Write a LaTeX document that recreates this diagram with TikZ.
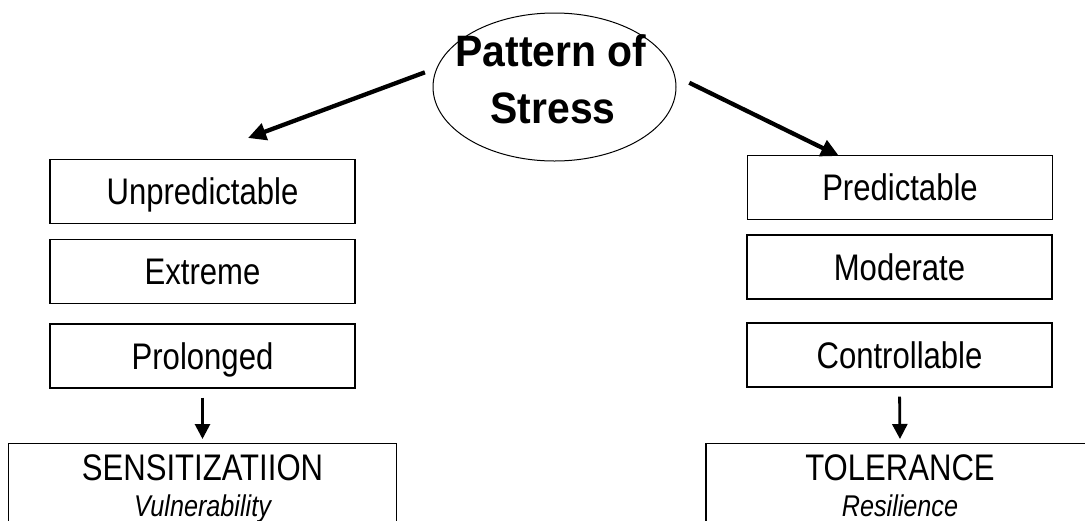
\documentclass[tikz,border=0pt]{standalone}
\usepackage{fontspec}
\setmainfont{Liberation Sans}[FakeStretch=0.84]
\newfontfamily\titlefont{Liberation Sans}[FakeStretch=0.93]
\usetikzlibrary{shapes.geometric,arrows.meta}
\begin{document}
\begin{tikzpicture}[x=1pt,y=-1pt,
  stepbox/.style={draw=black,line width=1.2pt,rectangle,inner sep=0pt,
    minimum width=305pt,minimum height=64pt,
    font=\fontsize{37}{37}\selectfont,text height=26.5pt,text depth=0pt},
  outbox/.style={draw=black,line width=1.2pt,rectangle,inner sep=0pt,
    minimum width=388pt,minimum height=130pt,anchor=north},
  outhead/.style={anchor=base,inner sep=0pt,font=\fontsize{37}{37}\selectfont},
  outsub/.style={anchor=base,inner sep=0pt,font=\fontsize{30}{30}\selectfont\itshape},
  titletext/.style={anchor=base,inner sep=0pt,font=\titlefont\bfseries\fontsize{44}{44}\selectfont},
  bigarrow/.style={line width=4.3pt,-{Triangle[length=18pt,width=17pt]}},
  downarrow/.style={line width=2.8pt,-{Triangle[length=15pt,width=15pt]},
    shorten <=9pt,shorten >=4pt}]
\useasboundingbox (0,0) rectangle (1085,520);
\clip (0,0) rectangle (1085,520);

% central ellipse
\node[ellipse,draw=black,line width=1pt,minimum width=243pt,minimum height=148pt,inner sep=0pt]
  (stress) at (554.5,87) {};
\node[titletext] (title1) at (551,66) {Pattern of};
\node[titletext] (title2) at (553,123) {Stress};

% left column
\node[stepbox] (unpred) at (202.5,191.5) {Unpredictable};
\node[stepbox] (extreme) at (202.5,271.5) {Extreme};
\node[stepbox] (prolonged) at (202.5,356) {Prolonged};
\node[outbox] (sens) at (202.5,443) {};
\node[outhead] (sensT) at (202.5,480) {SENSITIZATIION};
\node[outsub] (sensS) at (202.5,516) {Vulnerability};

% right column
\node[stepbox] (pred) at (900,187.5) {Predictable};
\node[stepbox] (moderate) at (899.5,267) {Moderate};
\node[stepbox] (control) at (899.5,355) {Controllable};
\node[outbox] (toler) at (900,443) {};
\node[outhead] (tolerT) at (900,480) {TOLERANCE};
\node[outsub] (tolerS) at (900,516) {Resilience};

% branch arrows
\coordinate (ltip) at (248,138);
\coordinate (rtip) at (839,156);
\draw[bigarrow] ([xshift=-10pt]stress.173) -- (ltip);
\draw[bigarrow] ([xshift=13pt]stress.2) -- (rtip);

% outcome arrows
\draw[downarrow] (prolonged.south) -- (sens.north);
\draw[downarrow] (control.south) -- (toler.north);
\end{tikzpicture}
\end{document}
